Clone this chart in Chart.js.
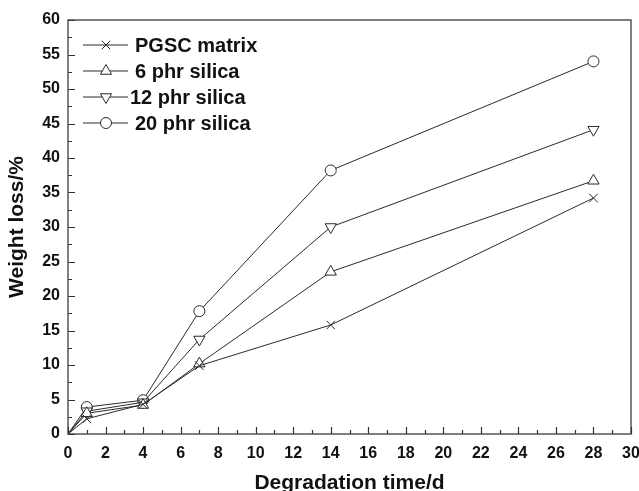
<!DOCTYPE html>
<html>
<head>
<meta charset="utf-8">
<script src="https://cdn.jsdelivr.net/npm/chart.js@4"></script>
<style>
  html, body { margin: 0; padding: 0; background: #fff; }
  #wrap { width: 639px; height: 491px; }
</style>
</head>
<body>
<div id="wrap"><canvas id="chart" width="639" height="491"></canvas></div>
<script>
// degradation day, weight loss in %
const days = [0, 1, 4, 7, 14, 28];
const pgscMatrix = [0, 2.2, 4.3, 9.9, 15.8, 34.2];
const silica6 = [0, 3.0, 4.2, 10.2, 23.5, 36.7];
const silica12 = [0, 3.3, 4.6, 13.7, 30.0, 44.1];
const silica20 = [0, 3.9, 4.9, 17.8, 38.2, 54.0];
const seriesNames = ['PGSC matrix', '6 phr silica', '12 phr silica', '20 phr silica'];

const INK = '#2a2a2a';
const FONT = 'Liberation Sans, Arial, sans-serif';

const pts = arr => days.map((d, i) => ({ x: d, y: arr[i] }));
const sizes = [6, 6.5, 6.5, 5.5];

function ds(label, arr, style, size, rot) {
  const r = days.map((d, i) => i === 0 ? 0 : size);
  return {
    label, data: pts(arr),
    borderColor: INK, borderWidth: 1, showLine: true, tension: 0,
    pointStyle: style, pointRotation: rot || 0,
    pointRadius: r, pointHoverRadius: r,
    pointBackgroundColor: '#fff', pointBorderColor: INK, pointBorderWidth: 1,
  };
}

const datasets = [
  ds(seriesNames[0], pgscMatrix, 'crossRot', sizes[0]),
  ds(seriesNames[1], silica6, 'triangle', sizes[1]),
  ds(seriesNames[2], silica12, 'triangle', sizes[2], 180),
  ds(seriesNames[3], silica20, 'circle', sizes[3]),
];

// frame, inward ticks and inside legend
const decor = {
  id: 'decor',
  afterDraw(chart) {
    const { ctx, chartArea: a, scales: { x, y } } = chart;
    ctx.save();
    ctx.strokeStyle = '#555';
    ctx.lineWidth = 1.5;
    ctx.strokeRect(a.left, a.top, a.right - a.left, a.bottom - a.top);

    ctx.strokeStyle = '#333';
    ctx.lineWidth = 1.2;
    ctx.beginPath();
    for (let v = 0; v <= 30; v++) {
      const px = Math.round(x.getPixelForValue(v)) + 0.5;
      const len = v % 2 === 0 ? 7 : 4;
      ctx.moveTo(px, a.bottom); ctx.lineTo(px, a.bottom - len);
    }
    for (let v = 0; v <= 60; v += 2.5) {
      const py = Math.round(y.getPixelForValue(v)) + 0.5;
      const len = v % 5 === 0 ? 7 : 4;
      ctx.moveTo(a.left, py); ctx.lineTo(a.left + len, py);
    }
    ctx.stroke();

    // legend
    const rowsY = [45, 71, 97, 123];
    const textX = [135, 135, 130, 135];
    ctx.font = 'bold 20px ' + FONT;
    ctx.textBaseline = 'middle';
    chart.data.datasets.forEach((d, i) => {
      const yy = rowsY[i];
      ctx.strokeStyle = INK;
      ctx.lineWidth = 1;
      ctx.beginPath();
      ctx.moveTo(83, yy); ctx.lineTo(128, yy);
      ctx.stroke();
      ctx.fillStyle = '#fff';
      Chart.helpers.drawPoint(ctx, {
        pointStyle: d.pointStyle, rotation: d.pointRotation,
        radius: sizes[i], borderWidth: 1,
      }, 106, yy);
      ctx.fillStyle = '#111';
      ctx.fillText(d.label, textX[i], yy + 1);
    });
    ctx.restore();
  }
};

new Chart(document.getElementById('chart'), {
  type: 'scatter',
  data: { datasets },
  options: {
    responsive: false,
    animation: false,
    layout: { padding: { top: 20, right: 8, left: 0, bottom: 0 } },
    plugins: { legend: { display: false }, tooltip: { enabled: false } },
    scales: {
      x: {
        type: 'linear', min: 0, max: 30,
        ticks: { stepSize: 2, color: '#111', font: { family: FONT, size: 16, weight: 'bold' }, padding: 10, maxRotation: 0 },
        grid: { drawOnChartArea: false, drawTicks: false },
        border: { display: false },
        title: { display: true, text: 'Degradation time/d', color: '#111', font: { family: FONT, size: 21, weight: 'bold', lineHeight: 1 }, padding: { top: 0, bottom: -3 } },
        afterFit(s) { s.height = 57; s.paddingLeft = 0; s.paddingRight = 0; },
      },
      y: {
        min: 0, max: 60,
        ticks: { stepSize: 5, color: '#111', font: { family: FONT, size: 16, weight: 'bold' }, padding: 8 },
        grid: { drawOnChartArea: false, drawTicks: false },
        border: { display: false },
        title: { display: true, text: 'Weight loss/%', color: '#111', font: { family: FONT, size: 21, weight: 'bold', lineHeight: 1 }, padding: { top: 7, bottom: 0 } },
        afterFit(s) { s.width = 68; },
      },
    },
  },
  plugins: [decor],
});
</script>
</body>
</html>
